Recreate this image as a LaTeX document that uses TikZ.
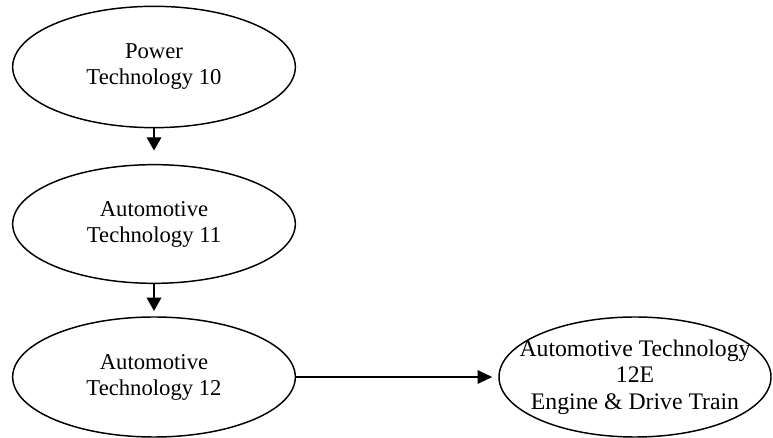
\documentclass[tikz,border=0pt]{standalone}
\usepackage{fontspec}
\setmainfont{Liberation Serif}
\usepackage{tikz}
\usetikzlibrary{shapes}
\usetikzlibrary{arrows.meta}
\tikzset{
  course/.style={ellipse, draw, line width=1.1pt, inner sep=0pt, align=center,
    font=\fontsize{17}{19.5}\selectfont},
  down/.style={line width=1.1pt, -{Triangle[length=10pt, width=11pt]}},
  across/.style={line width=1.5pt, -{Triangle[length=11pt, width=10pt]}}
}
\newcommand{\course}[5]{\node[course, minimum width=#3, minimum height=#4] (#1) at (#2) {#5};}

\begin{document}
\begin{tikzpicture}[x=0.75pt, y=0.75pt]
        \useasboundingbox (0,0) rectangle (773,438);
        % left column
        \course{pt10}{154,371}{212pt}{91pt}{Power\\Technology 10}
        \course{at11}{154,214}{212pt}{89pt}{Automotive\\Technology 11}
        \course{at12}{154,61}{212pt}{90pt}{Automotive\\Technology 12}
        % option
        \node[course, inner xsep=-45pt, inner ysep=-25pt, minimum width=204pt, minimum height=90pt,
          font=\fontsize{17.8}{20}\selectfont] (at12e) at (635,61)
          {Automotive Technology\\12E\\Engine \& Drive Train};
        % arrows
        \draw[down, shorten >=10pt] (pt10) -- (at11);
        \draw[down, shorten >=4pt] (at11) -- (at12);
        \draw[across, shorten >=4.5pt] (at12) -- (at12e);
    \end{tikzpicture}
\end{document}
